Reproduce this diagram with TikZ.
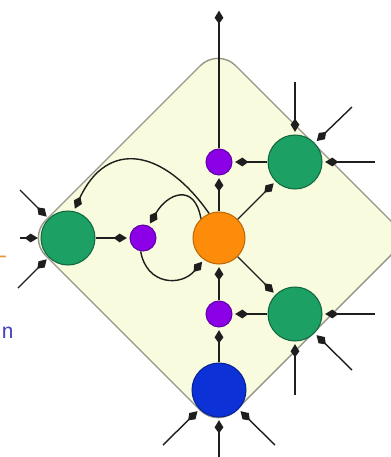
\documentclass[tikz,border=0pt]{standalone}
\usepackage{tikz}
\usetikzlibrary{arrows.meta}
\definecolor{padfill}{RGB}{249,251,222}
\definecolor{padline}{RGB}{150,150,140}
\definecolor{cgreen}{RGB}{28,160,100}
\definecolor{corange}{RGB}{252,140,10}
\definecolor{cpurple}{RGB}{140,0,232}
\definecolor{cblue}{RGB}{12,50,215}
\definecolor{cline}{RGB}{30,30,30}

\begin{document}
\begin{tikzpicture}[x=0.02cm,y=-0.02cm,
  flow/.style={line width=0.8pt, cline, -{Kite[length=7.5pt,width=5pt,inset=3.4pt]}, shorten >=1.5pt}]
\useasboundingbox (0,0) rectangle (391,457);
\clip (0,0) rectangle (391,457);

% pad
\filldraw[fill=padfill, draw=padline, line width=0.8pt, rounded corners=0.5cm]
  (218,48) -- (408,238) -- (218,428) -- (28,238) -- cycle;

\begin{scope}[every node/.style={circle,draw,line width=0.6pt,inner sep=0pt},
  big/.style={minimum size=1.08cm}, small/.style={minimum size=0.52cm}]
\node[fill=corange, draw=corange!75!black, minimum size=1.04cm] (0) at (219,238) {};
\node[small, fill=cpurple, draw=cpurple!70!black] (1) at (219,162) {};
\node[small, fill=cpurple, draw=cpurple!70!black] (2) at (143,238) {};
\node[small, fill=cpurple, draw=cpurple!70!black] (3) at (219,314) {};
\node[big, fill=cgreen, draw=cgreen!65!black] (4) at (295,162) {};
\node[big, fill=cgreen, draw=cgreen!65!black] (5) at (68,238) {};
\node[big, fill=cgreen, draw=cgreen!65!black] (6) at (295,314) {};
\node[big, fill=cblue, draw=cblue!70!black] (7) at (219,390) {};
\end{scope}

\coordinate (8) at (219,8);
\coordinate (9) at (295,82);
\coordinate (10) at (352,107);
\coordinate (11) at (375,162);
\coordinate (12) at (20,190);
\coordinate (13) at (20,238);
\coordinate (14) at (18,288);
\coordinate (15) at (375,314);
\coordinate (16) at (352,370);
\coordinate (17) at (295,395);
\coordinate (18) at (163,445);
\coordinate (19) at (219,457);
\coordinate (20) at (275,445);

% out of the top
\draw[flow] (1) -- (8);

% inputs
\draw[flow] (9) -- (4);
\draw[flow] (10) -- (4);
\draw[flow] (11) -- (4);
\draw[flow] (12) -- (5);
\draw[flow] (13) -- (5);
\draw[flow] (14) -- (5);
\draw[flow] (15) -- (6);
\draw[flow] (16) -- (6);
\draw[flow] (17) -- (6);
\draw[flow] (18) -- (7);
\draw[flow] (19) -- (7);
\draw[flow] (20) -- (7);

% inside the pad
\draw[flow] (0) -- (1);
\draw[flow] (4) -- (1);
\draw[flow] (0) -- (4);
\draw[flow] (5) -- (2);
\draw[flow] (6) -- (3);
\draw[flow] (0) -- (6);
\draw[flow] (7) -- (3);
\draw[flow] (3) -- (0);
\draw[flow] (0.112) to[out=125,in=65,looseness=1.5] (5.78);
\draw[flow] (0.133) to[out=100,in=60,looseness=1.8] (2.65);
\draw[flow] (2.260) to[out=-80,in=230,looseness=1.4] (0.235);

% text at the left edge
\node[anchor=east, inner sep=0pt, font=\sffamily\LARGE, text={rgb,255:red,230;green,150;blue,60}] (21) at (8,260) {-};
\node[anchor=base west, inner sep=0pt, font=\sffamily\Large, text={rgb,255:red,70;green,70;blue,190}] (22) at (1,338) {n};
\end{tikzpicture}
\end{document}
